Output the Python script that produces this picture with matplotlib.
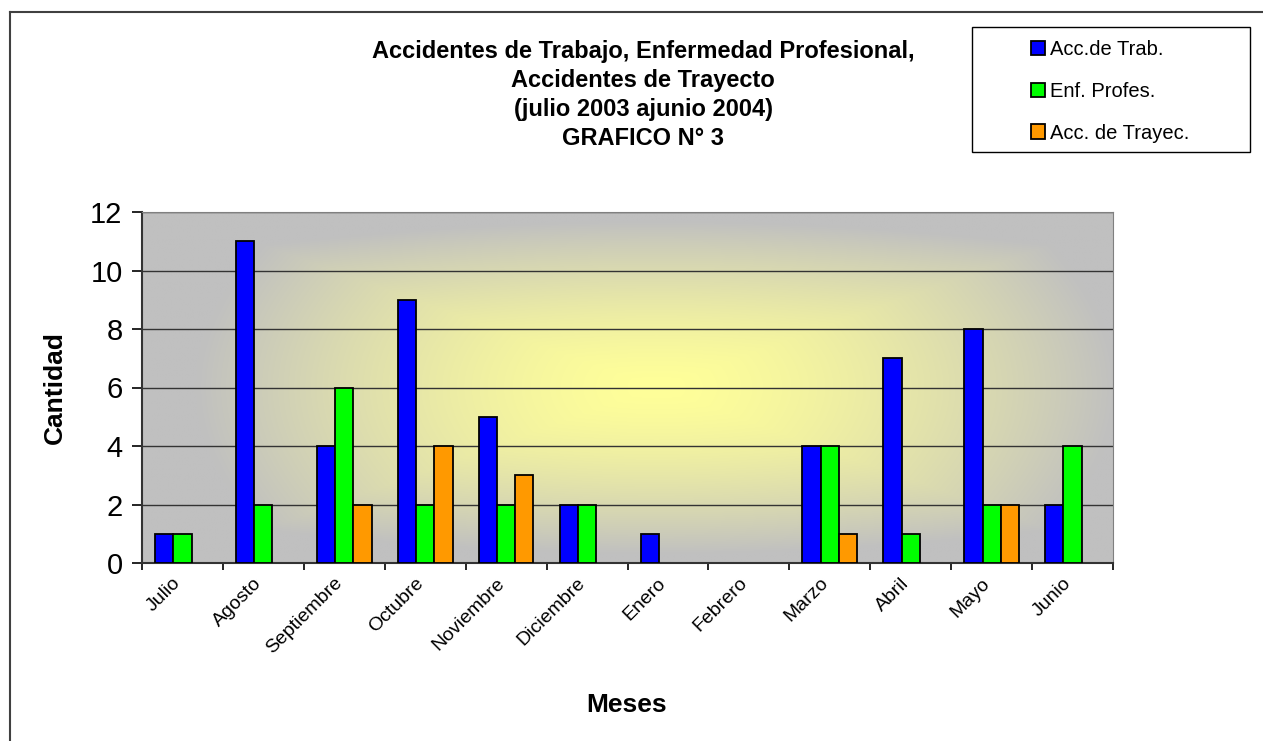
import matplotlib
matplotlib.use("Agg")
import matplotlib.pyplot as plt
import numpy as np
from matplotlib.lines import Line2D
from matplotlib.patches import Rectangle

plt.rcParams['font.family'] = ['Liberation Sans', 'DejaVu Sans']

# Datos
meses = ['Julio', 'Agosto', 'Septiembre', 'Octubre', 'Noviembre', 'Diciembre',
         'Enero', 'Febrero', 'Marzo', 'Abril', 'Mayo', 'Junio']
acc_trab = [1, 11, 4, 9, 5, 2, 1, 0, 4, 7, 8, 2]
enf_prof = [1, 2, 6, 2, 2, 2, 0, 0, 4, 1, 2, 4]
acc_tray = [0, 0, 2, 4, 3, 0, 0, 0, 1, 0, 2, 0]

series = [('Acc.de Trab.', acc_trab, '#0000FF'),
          ('Enf. Profes.', enf_prof, '#00FF00'),
          ('Acc. de Trayec.', acc_tray, '#FF9900')]

W, H = 1263, 741
fig = plt.figure(figsize=(W / 100, H / 100), dpi=100)
ax = fig.add_axes([142 / W, 1 - 563 / H, (1113 - 142) / W, (563 - 212) / H])

# fondo degradado desde el centro (amarillo -> gris)
n = 400
gx, gy = np.meshgrid(np.linspace(0, 1, n), np.linspace(0, 1, n))
dx = np.abs(gx - 0.53) / 0.5
dy = np.abs(gy - 0.5) / 0.5
r = np.maximum(dx, dy) * 0.6 + np.sqrt(dx ** 2 + dy ** 2) * 0.4
t = np.clip(r / 0.95, 0, 1) ** 1.5
c_in = np.array([255, 255, 153]) / 255
c_out = np.array([192, 192, 192]) / 255
img = c_in + (c_out - c_in) * t[..., None]
ax.imshow(img, extent=[-0.5, 11.5, 0, 12], aspect='auto', origin='lower',
          zorder=0, interpolation='bilinear')

x = np.arange(len(meses))
bw = 0.225
for i, (lab, vals, col) in enumerate(series):
    vals = np.array(vals)
    pos = x + (i - 1) * bw
    m = vals > 0
    ax.bar(pos[m], vals[m], width=bw, color=col, edgecolor='black',
           linewidth=1.3, zorder=3, label=lab)

ax.set_xlim(-0.5, 11.5)
ax.set_ylim(0, 12)
ax.set_yticks(range(0, 13, 2))
ax.yaxis.grid(True, color='#333333', linewidth=1.0)
ax.set_axisbelow(True)
ax.tick_params(axis='y', labelsize=21, length=7, width=1.2, pad=7, direction='out')

ax.set_xticks(np.arange(-0.5, 12, 1))
ax.set_xticklabels([])
ax.tick_params(axis='x', length=5, width=1.2, direction='out')
for xi, m in zip(x, meses):
    ax.text(xi + 0.02, -0.4, m, rotation=45, ha='right', va='top', fontsize=14)

for s in ['top', 'right']:
    ax.spines[s].set_color('#808080')
for s in ['left', 'bottom']:
    ax.spines[s].set_color('#333333')
    ax.spines[s].set_linewidth(1.5)

ax.set_ylabel('Cantidad', fontsize=19, fontweight='bold', labelpad=17)
fig.text(627 / W, 1 - 705 / H, 'Meses', fontsize=19, fontweight='bold',
         ha='center', va='center')

fig.text(643 / W, 1 - 95 / H,
         'Accidentes de Trabajo, Enfermedad Profesional,\nAccidentes de Trayecto\n'
         '(julio 2003 ajunio 2004)\nGRAFICO N° 3',
         fontsize=17, fontweight='bold', ha='center', va='center', linespacing=1.32)

# leyenda
fig.patches.append(Rectangle((972 / W, 1 - 152 / H), (1250 - 972) / W, (152 - 27) / H,
                             transform=fig.transFigure, fill=False,
                             edgecolor='black', linewidth=1))
fig.legend(loc='upper left', bbox_to_anchor=(1031 / W, 1 - 40 / H), frameon=False,
           fontsize=14.5, handlelength=0.7, handleheight=0.7, handletextpad=0.25,
           labelspacing=1.13, borderpad=0, borderaxespad=0)

# borde exterior
fig.lines.append(Line2D([10 / W, 10 / W], [0, 1 - 12 / H], transform=fig.transFigure,
                        color='#404040', linewidth=1.5))
fig.lines.append(Line2D([10 / W, 1], [1 - 12 / H, 1 - 12 / H], transform=fig.transFigure,
                        color='#404040', linewidth=1.5))

fig.savefig('out.png', dpi=100)
